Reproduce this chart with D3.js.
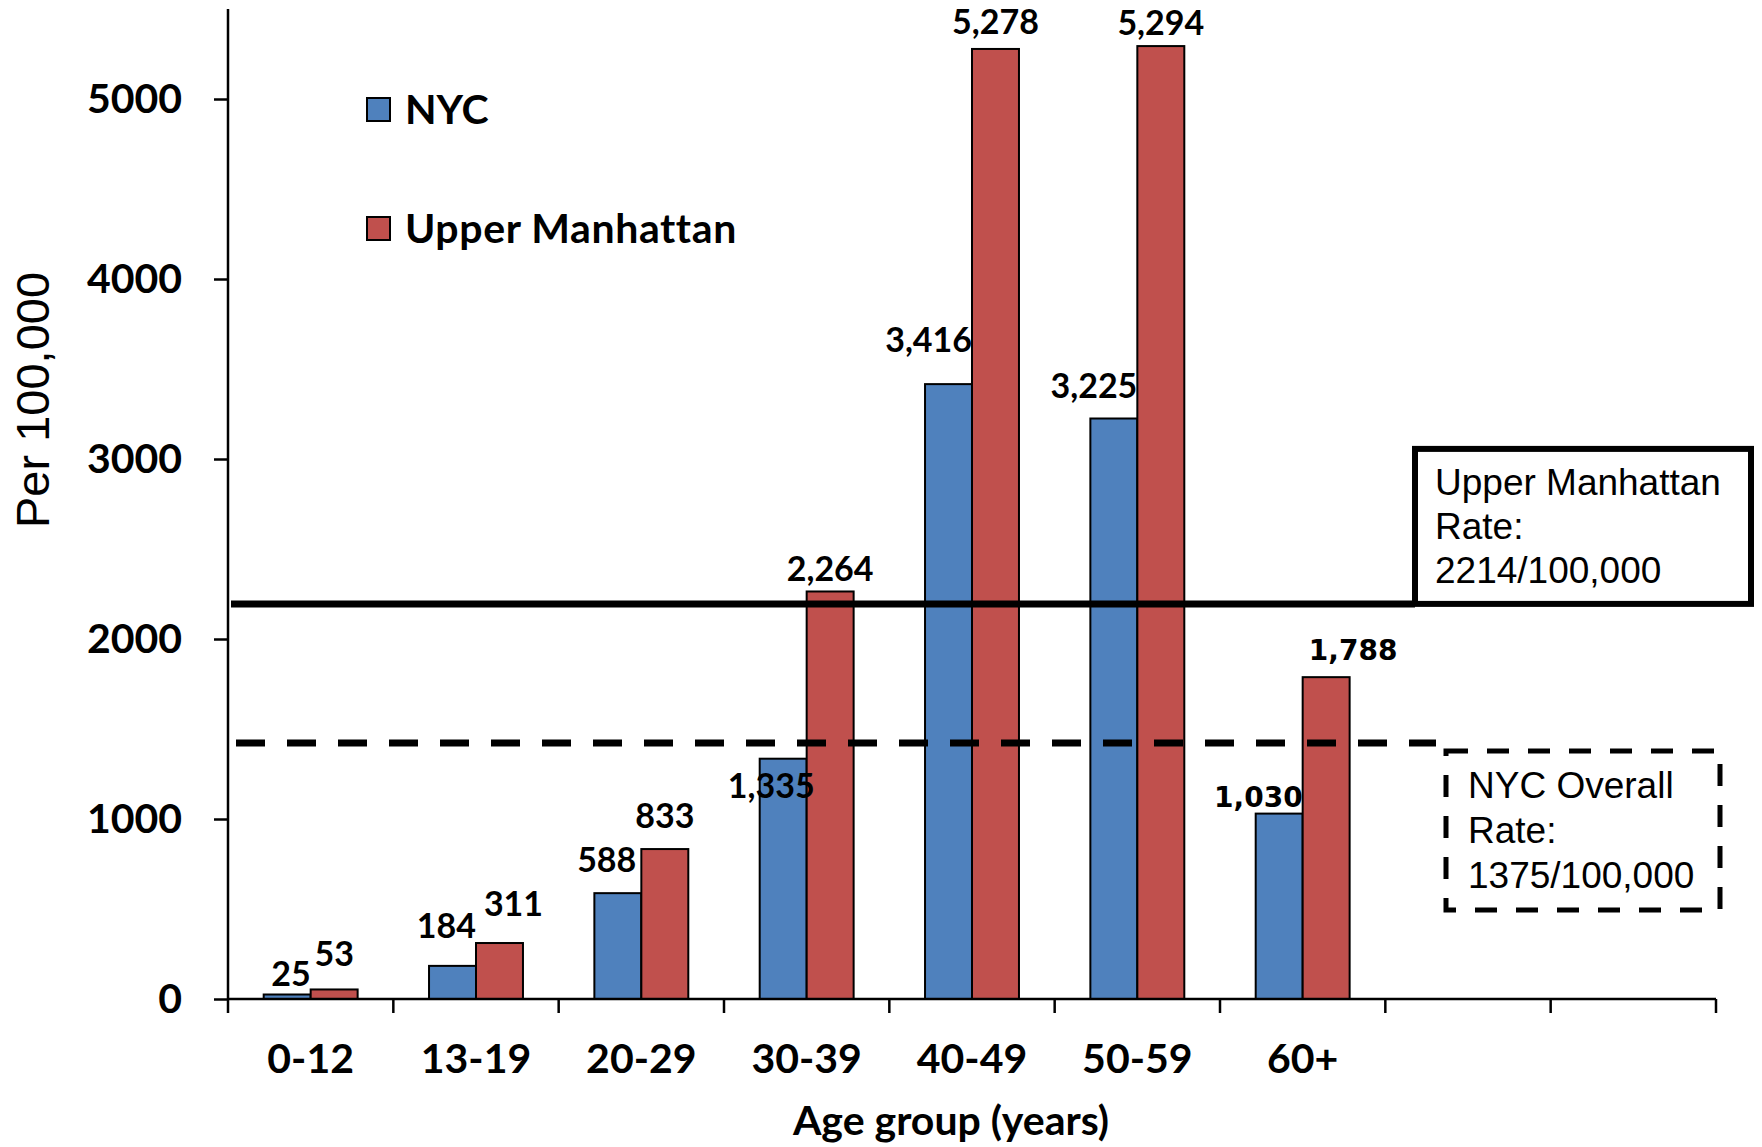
<!DOCTYPE html>
<html>
<head>
<meta charset="utf-8">
<script src="https://cdn.jsdelivr.net/npm/d3@7"></script>
<style>
    body { margin: 0; background: #fff; }
    svg { display: block; }
    .bold { font-family: Lato, "Noto Sans", sans-serif; font-weight: 700; }
    .plain { font-family: "Liberation Sans", Arial, sans-serif; }
</style>
</head>
<body>
<svg id="chart"></svg>
<script>
// data
let ageGroups = ["0-12", "13-19", "20-29", "30-39", "40-49", "50-59", "60+"];
let emptySlots = ["blank1", "blank2"];
let seriesNames = ["NYC", "Upper Manhattan"];
let nycValues = [25, 184, 588, 1335, 3416, 3225, 1030];
let upperValues = [53, 311, 833, 2264, 5278, 5294, 1788];
let yTicks = [0, 1000, 2000, 3000, 4000, 5000];
let upperRateText = ["Upper Manhattan", "Rate:", "2214/100,000"];
let nycRateText = ["NYC Overall", "Rate:", "1375/100,000"];
let upperLineValue = 2195;
let nycLineValue = 1422;

// label nudges [dx, dy] for hand-placed value labels
let nycNudge = [[0, 12], [0, -7], [-5, 0], [8, 60], [0, -11], [0, 0], [0, 14]];
let upperNudge = [[0, -2], [14, -6], [0, 0], [0, 11], [0, 6], [0, 10], [27, 4]];
let wideFontLabels = [1030, 1788];

let colors = ["#4F81BD", "#C0504D"];

let width = 1762, height = 1147;
let svg = d3.select("#chart").attr("width", width).attr("height", height);

let plotLeft = 228, plotRight = 1716, plotTop = 9, plotBottom = 999;

// scales
let x0 = d3.scaleBand()
    .domain(ageGroups.concat(emptySlots))
    .range([plotLeft, plotRight])
    .paddingInner(0).paddingOuter(0);

let x1 = d3.scaleBand()
    .domain(seriesNames)
    .range([0, x0.bandwidth()])
    .paddingInner(0).paddingOuter(0.76);

let y = d3.scaleLinear().domain([0, 5500]).range([plotBottom, plotTop]);

let rows = ageGroups.map(function (g, i) {
    return { group: g, i: i, values: [nycValues[i], upperValues[i]] };
});

// bars
let groups = svg.append("g").selectAll("g")
    .data(rows).enter().append("g")
    .attr("transform", function (d) { return "translate(" + x0(d.group) + ",0)"; });

function cells(d) {
    return d.values.map(function (v, k) { return { s: k, v: v, i: d.i }; });
}

groups.selectAll("rect")
    .data(cells)
    .enter().append("rect")
    .attr("x", function (d) { return x1(seriesNames[d.s]); })
    .attr("y", function (d) { return y(d.v); })
    .attr("width", x1.bandwidth())
    .attr("height", function (d) { return y(0) - y(d.v); })
    .attr("fill", function (d) { return colors[d.s]; })
    .attr("stroke", "#000")
    .attr("stroke-width", 2);

// value labels
let fmt = d3.format(",");
function isWide(d) { return wideFontLabels.indexOf(d.v) >= 0; }

groups.selectAll("text")
    .data(cells)
    .enter().append("text")
    .style("font-family", function (d) { return isWide(d) ? "'DejaVu Sans', Verdana, sans-serif" : "Lato, 'Noto Sans', sans-serif"; })
    .style("font-weight", "bold")
    .style("font-size", function (d) { return isWide(d) ? "28px" : "34px"; })
    .attr("text-anchor", function (d) { return d.s === 0 ? "end" : "middle"; })
    .attr("x", function (d) {
        let nudge = d.s === 0 ? nycNudge[d.i] : upperNudge[d.i];
        let bx = x1(seriesNames[d.s]);
        return (d.s === 0 ? bx + x1.bandwidth() : bx + x1.bandwidth() / 2) + nudge[0];
    })
    .attr("y", function (d) {
        let nudge = d.s === 0 ? nycNudge[d.i] : upperNudge[d.i];
        return y(d.v) - 21 + nudge[1];
    })
    .text(function (d) { return fmt(d.v); });

// y axis
let yAxis = svg.append("g")
    .attr("transform", "translate(" + plotLeft + ",0)")
    .call(d3.axisLeft(y).tickValues(yTicks).tickSize(14).tickPadding(32).tickFormat(d3.format("d")));
yAxis.select(".domain").attr("stroke", "#000").attr("stroke-width", 2.5)
    .attr("d", "M0," + y(5500) + "V" + y(0));
yAxis.selectAll(".tick line").attr("stroke", "#000").attr("stroke-width", 2.5);
yAxis.selectAll(".tick text")
    .attr("class", "bold")
    .style("font-size", "41px")
    .attr("fill", "#000");

// x axis with ticks between categories
let xAxis = svg.append("g").attr("transform", "translate(0," + plotBottom + ")");
xAxis.append("line")
    .attr("x1", plotLeft).attr("x2", plotRight)
    .attr("stroke", "#000").attr("stroke-width", 2.5);
let bounds = x0.domain().map(function (d) { return x0(d); }).concat([plotRight]);
xAxis.selectAll(".xtick").data(bounds).enter().append("line")
    .attr("class", "xtick")
    .attr("x1", function (d) { return d; }).attr("x2", function (d) { return d; })
    .attr("y1", 0).attr("y2", 14)
    .attr("stroke", "#000").attr("stroke-width", 2.5);
xAxis.selectAll(".xlabel").data(ageGroups).enter().append("text")
    .attr("class", "bold xlabel")
    .attr("x", function (d) { return x0(d) + x0.bandwidth() / 2; })
    .attr("y", 74)
    .attr("text-anchor", "middle")
    .style("font-size", "41px")
    .text(function (d) { return d; });

// axis titles
svg.append("text")
    .attr("class", "bold")
    .attr("x", 951).attr("y", 1135)
    .attr("text-anchor", "middle")
    .style("font-size", "41px")
    .text("Age group (years)");

svg.append("text")
    .attr("class", "plain")
    .attr("transform", "translate(49,400) rotate(-90)")
    .attr("text-anchor", "middle")
    .style("font-size", "47px")
    .text("Per 100,000");

// legend
let legend = svg.append("g").selectAll("g")
    .data(seriesNames).enter().append("g")
    .attr("transform", function (d, i) { return "translate(367," + (98 + i * 119) + ")"; });
legend.append("rect")
    .attr("width", 23).attr("height", 23)
    .attr("fill", function (d, i) { return colors[i]; })
    .attr("stroke", "#000").attr("stroke-width", 2);
legend.append("text")
    .attr("class", "bold")
    .attr("x", 38).attr("y", 26)
    .style("font-size", "41px")
    .style("letter-spacing", function (d, i) { return i === 1 ? "0.6px" : "0px"; })
    .text(function (d) { return d; });

// upper manhattan rate line and box
let umY = y(upperLineValue);
let umBox = { x: 1415, w: 336, h: 155 };
svg.append("line")
    .attr("x1", plotLeft + 3).attr("x2", umBox.x)
    .attr("y1", umY).attr("y2", umY)
    .attr("stroke", "#000").attr("stroke-width", 7);
svg.append("rect")
    .attr("x", umBox.x).attr("y", umY - umBox.h)
    .attr("width", umBox.w).attr("height", umBox.h)
    .attr("fill", "#fff")
    .attr("stroke", "#000").attr("stroke-width", 6);
svg.append("text")
    .attr("class", "plain")
    .style("font-size", "37px")
    .selectAll("tspan").data(upperRateText).enter().append("tspan")
    .attr("x", umBox.x + 20)
    .attr("y", function (d, i) { return umY - umBox.h + 46 + i * 44; })
    .text(function (d) { return d; });

// nyc overall rate line and box
let nyY = y(nycLineValue);
svg.append("line")
    .attr("x1", plotLeft + 8).attr("x2", 1436)
    .attr("y1", nyY).attr("y2", nyY)
    .attr("stroke", "#000").attr("stroke-width", 7)
    .attr("stroke-dasharray", "29,22");
let nyBox = { x: 1446, y: 751, w: 274, h: 159 };
svg.append("rect")
    .attr("x", nyBox.x).attr("y", nyBox.y)
    .attr("width", nyBox.w).attr("height", nyBox.h)
    .attr("fill", "none")
    .attr("stroke", "#000").attr("stroke-width", 5)
    .attr("stroke-dasharray", "22,19");
svg.append("text")
    .attr("class", "plain")
    .style("font-size", "37px")
    .selectAll("tspan").data(nycRateText).enter().append("tspan")
    .attr("x", nyBox.x + 22)
    .attr("y", function (d, i) { return nyBox.y + 47 + i * 45; })
    .text(function (d) { return d; });
</script>
</body>
</html>
